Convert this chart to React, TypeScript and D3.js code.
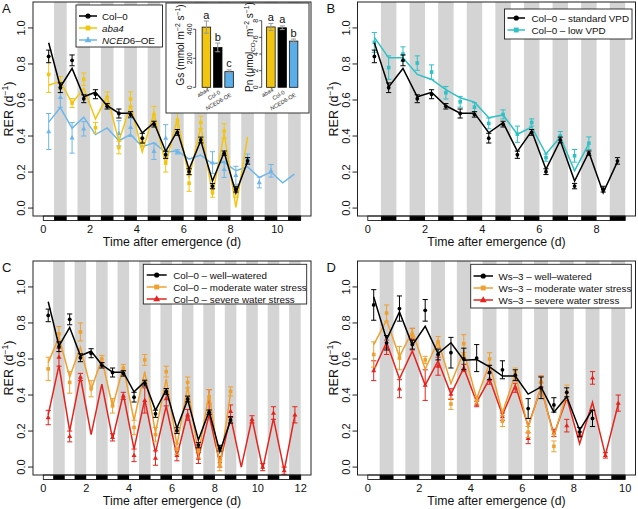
import React from "react";
import * as d3 from "d3";

// ---------- shared design values ----------
const HALF_DAYS = [0.23, 0.73, 1.23, 1.73, 2.23, 2.73, 3.23, 3.73, 4.23, 4.73, 5.23, 5.73,
  6.23, 6.73, 7.23, 7.73, 8.23, 8.73, 9.23, 9.73, 10.23, 10.73, 11.23, 11.73];
const DARK_START = 0.46;
const Y_TICKS = [0, 0.2, 0.4, 0.6, 0.8, 1.0];

// ---------- Col-0 well-watered / standard (shared A, B, C) ----------
const col0Fit = [0.918, 0.672, 0.775, 0.618, 0.643, 0.568, 0.527, 0.527, 0.418, 0.474, 0.315, 0.428, 0.215, 0.375, 0.15, 0.31, 0.085, 0.258];
const col0Obs = [0.842, 0.668, 0.82, 0.607, 0.632, 0.565, 0.525, 0.52, 0.388, 0.466, 0.296, 0.42, 0.202, 0.378, 0.122, 0.305, 0.105, 0.262];
const col0Err = [0.035, 0.027, 0.03, 0.022, 0.025, 0.015, 0.025, 0.015, 0.027, 0.016, 0.02, 0.016, 0.016, 0.016, 0.015, 0.012, 0.016, 0.018];

// ---------- Panel A ----------
const aba4Fit = [0.682, 0.705, 0.582, 0.665, 0.495, 0.62, 0.37, 0.572, 0.312, 0.527, 0.24, 0.497, 0.166, 0.452, 0.073, 0.414, 0.004, 0.395];
const aba4Obs = [0.742, 0.695, 0.583, 0.715, 0.446, 0.615, 0.336, 0.605, 0.365, 0.52, 0.25, 0.487, 0.138, 0.475, 0.085, 0.428, 0.09, null];
const aba4Err = [0.1, 0.035, 0.025, 0.035, 0.03, 0.03, 0.035, 0.04, 0.025, 0.045, 0.05, 0.05, 0.045, 0.035, 0.025, 0.04, 0.03, 0];
const ncedFit = [0.477, 0.558, 0.443, 0.505, 0.408, 0.445, 0.374, 0.409, 0.341, 0.362, 0.31, 0.318, 0.272, 0.294, 0.246, 0.254, 0.207, 0.229, 0.17, 0.2, 0.14, 0.188];
const ncedObs = [0.425, 0.615, 0.39, 0.44, null, null, 0.415, 0.448, null, 0.315, 0.388, 0.312, null, null, 0.253, 0.215, 0.182, 0.275, 0.142, 0.207, null, null];
const ncedErr = [0.1, 0.055, 0.085, 0.04, 0, 0, 0.07, 0.05, 0, 0.045, 0.075, 0.012, 0, 0, 0.06, 0.045, 0.05, 0.025, 0.03, 0.035, 0, 0];

// inset
const insetGenotypes = ["aba4", "Col-0", "NCED6-OE"];
const gsValues = [415, 275, 108];
const gsErr = [42, 30, 12];
const gsLetters = ["a", "b", "c"];
const gsTicks = [0, 200, 400];
const pnValues = [7.25, 7.15, 5.55];
const pnErr = [0.42, 0.22, 0.25];
const pnLetters = ["a", "a", "b"];
const pnTicks = [0, 2, 4, 6, 8];

// ---------- Panel B ----------
const lowVpdFit = [0.948, 0.834, 0.834, 0.742, 0.714, 0.657, 0.612, 0.588, 0.502, 0.517, 0.41, 0.45, 0.3, 0.395, 0.207, 0.358];
const lowVpdObs = [0.92, 0.78, 0.855, 0.805, 0.755, 0.64, 0.59, 0.56, 0.47, 0.52, 0.41, 0.475, 0.28, 0.4, 0.29, 0.36];
const lowVpdErr = [0.055, 0.065, 0.04, 0.04, 0.04, 0.035, 0.03, 0.025, 0.03, 0.025, 0.045, 0.02, 0.02, 0.025, 0.035, 0.035];

// ---------- Panel C ----------
const colModFit = [0.58, 0.72, 0.5, 0.665, 0.43, 0.6, 0.335, 0.556, 0.26, 0.53, 0.19, 0.49, 0.12, 0.45, 0.07, 0.41, 0.0, 0.41];
const colModObs = [0.545, 0.74, 0.47, 0.75, 0.435, 0.6, 0.34, 0.55, 0.22, 0.595, 0.18, 0.53, 0.1, 0.47, 0.09, 0.39, 0.01, 0.42];
const colModErr = [0.065, 0.04, 0.06, 0.05, 0.045, 0.02, 0.04, 0.02, 0.04, 0.03, 0.04, 0.03, 0.03, 0.03, 0.04, 0.04, 0.03, 0.025];
const colSevFit = [0.29, 0.565, 0.2, 0.5, 0.18, 0.46, 0.157, 0.405, 0.1, 0.377, 0.08, 0.34, 0.06, 0.3, 0.05, 0.29, 0.02, 0.28, 0.0, 0.27, -0.01, 0.27, -0.02, 0.29];
const colSevObs = [0.275, 0.61, 0.17, 0.5, null, null, 0.165, 0.395, 0.065, 0.37, 0.05, 0.38, 0.065, 0.29, 0.05, 0.36, 0.03, 0.31, null, 0.265, 0.0, 0.3, -0.02, 0.29];
const colSevErr = [0.04, 0.05, 0.03, 0.02, 0, 0, 0.02, 0.02, 0.035, 0.07, 0.04, 0.04, 0.03, 0.03, 0.03, 0.07, 0.03, 0.035, 0, 0.02, 0.02, 0.035, 0.02, 0.045];

// ---------- Panel D ----------
const wsWellFit = [0.945, 0.708, 0.861, 0.677, 0.782, 0.63, 0.69, 0.593, 0.597, 0.556, 0.505, 0.505, 0.405, 0.445, 0.305, 0.39, 0.205, 0.32];
const wsWellObs = [0.9, 0.69, 0.88, 0.68, 0.87, 0.625, 0.635, 0.6, 0.605, 0.525, 0.54, 0.51, 0.325, 0.44, 0.345, 0.415, 0.195, 0.27];
const wsWellErr = [0.085, 0.04, 0.07, 0.025, 0.06, 0.03, 0.085, 0.06, 0.075, 0.04, 0.05, 0.03, 0.055, 0.06, 0.04, 0.025, 0.025, 0.045];
const wsModFit = [0.68, 0.815, 0.612, 0.756, 0.543, 0.7, 0.464, 0.64, 0.38, 0.575, 0.3, 0.516, 0.22, 0.445, 0.17, 0.408];
const wsModObs = [0.625, 0.855, 0.605, 0.73, 0.595, 0.695, 0.35, 0.685, 0.37, 0.6, 0.255, 0.525, 0.195, 0.47, 0.115, 0.415];
const wsModErr = [0.07, 0.045, 0.065, 0.04, 0.02, 0.03, 0.03, 0.05, 0.02, 0.035, 0.03, 0.025, 0.03, 0.035, 0.03, 0.04];
const wsSevFit = [0.536, 0.693, 0.49, 0.645, 0.455, 0.59, 0.405, 0.55, 0.36, 0.49, 0.29, 0.455, 0.227, 0.44, 0.18, 0.384, 0.13, 0.36, 0.066, 0.35];
const wsSevObs = [0.535, 0.665, 0.435, 0.71, 0.455, 0.56, 0.405, 0.55, 0.35, 0.49, 0.28, 0.44, 0.16, 0.475, 0.19, 0.23, 0.18, 0.495, 0.065, 0.355];
const wsSevErr = [0.055, 0.04, 0.05, 0.06, 0.085, 0.05, 0.03, 0.02, 0.015, 0.03, 0.02, 0.025, 0.03, 0.03, 0.02, 0.035, 0.015, 0.035, 0.015, 0.045];

// ---------- styling ----------
const FONT = "'Liberation Sans', Arial, Helvetica, sans-serif";
const BLACK = "#000000";
const GOLD = "#F2C511";
const SKY = "#6DB6EA";
const TEAL = "#2EC1C6";
const ORANGE = "#F0A02E";
const RED = "#E6231C";
const BAND = "#D4D4D4";

type Marker = "circle" | "square" | "triangle";
interface Series {
  color: string;
  marker: Marker;
  fit: number[];
  obs: (number | null)[];
  err: number[];
}
interface LegendItem { color: string; marker: Marker; label: React.ReactNode }
interface LegendCfg { box: [number, number, number, number]; rows: number[]; line: [number, number]; textX: number; items: LegendItem[] }

function markerShape(m: Marker, cx: number, cy: number, size: number, color: string, key?: string | number) {
  if (m === "circle") return <circle key={key} cx={cx} cy={cy} r={size * 0.5} fill={color} />;
  if (m === "square") return <rect key={key} x={cx - size * 0.45} y={cy - size * 0.45} width={size * 0.9} height={size * 0.9} fill={color} />;
  const h = size * 0.95;
  const w = size * 1.1;
  return <path key={key} d={`M${cx},${cy - h * 0.62}L${cx + w / 2},${cy + h * 0.38}L${cx - w / 2},${cy + h * 0.38}Z`} fill={color} />;
}

const sizeFor: Record<Marker, number> = { circle: 3.8, square: 4.0, triangle: 4.6 };
const legendSize: Record<Marker, number> = { circle: 5.2, square: 5.4, triangle: 6.2 };

function Panel(props: {
  letter: string; left: number; right: number; top: number; bottom: number; days: number;
  xTicks: number[]; series: Series[]; legend: LegendCfg; children?: React.ReactNode;
}) {
  const { letter, left, right, top, bottom, days, xTicks, series, legend } = props;
  const x = d3.scaleLinear().domain([-0.04 * days, 1.04 * days]).range([left, right]);
  const y = d3.scaleLinear().domain([-0.044, 1.144]).range([bottom, top]);
  const dayIdx = d3.range(days);
  const clipId = `clip-${letter}`;
  const line = d3.line<[number, number]>().x(d => x(d[0])).y(d => y(d[1]));
  const barH = 4.5;
  return (
    <g>
      <defs>
        <clipPath id={clipId}><rect x={left} y={top} width={right - left} height={bottom - top} /></clipPath>
      </defs>
      {dayIdx.map(k => (
        <rect key={`b${k}`} x={x(k + DARK_START)} y={top} width={x(k + 1) - x(k + DARK_START)} height={bottom - top} fill={BAND} />
      ))}
      <g clipPath={`url(#${clipId})`}>
        {series.map((s, si) => {
          const pts: [number, number][] = s.fit.map((v, i) => [HALF_DAYS[i], v]);
          return (
            <g key={`s${si}`}>
              <path d={line(pts) || ""} fill="none" stroke={s.color} strokeWidth={1.5} strokeLinejoin="miter" />
              {s.obs.map((v, i) => {
                if (v === null) return null;
                const cx = x(HALF_DAYS[i]);
                const e = s.err[i];
                const y1 = y(v - e), y2 = y(v + e);
                return (
                  <g key={`p${i}`}>
                    {e > 0 && (
                      <g stroke={s.color} strokeWidth={1}>
                        <line x1={cx} x2={cx} y1={y1} y2={y2} />
                        <line x1={cx - 2.6} x2={cx + 2.6} y1={y1} y2={y1} />
                        <line x1={cx - 2.6} x2={cx + 2.6} y1={y2} y2={y2} />
                      </g>
                    )}
                    {markerShape(s.marker, cx, y(v), sizeFor[s.marker], s.color)}
                  </g>
                );
              })}
            </g>
          );
        })}
      </g>
      {/* day/night bar */}
      <rect x={x(0)} y={bottom} width={x(days) - x(0)} height={barH} fill="#fff" stroke={BLACK} strokeWidth={0.8} />
      {dayIdx.map(k => (
        <rect key={`n${k}`} x={x(k + DARK_START)} y={bottom} width={x(k + 1) - x(k + DARK_START)} height={barH} fill={BLACK} />
      ))}
      {/* box */}
      <rect x={left} y={top} width={right - left} height={bottom - top} fill="none" stroke="#222" strokeWidth={1} />
      {/* y axis */}
      {Y_TICKS.map(t => (
        <g key={`y${t}`}>
          <line x1={left - 5} x2={left} y1={y(t)} y2={y(t)} stroke="#222" strokeWidth={1} />
          <text transform={`translate(${left - 8},${y(t)}) rotate(-90)`} textAnchor="middle" fontSize={11} fontFamily={FONT} fill="#111">{t.toFixed(1)}</text>
        </g>
      ))}
      <text transform={`translate(${left - 20},${(top + bottom) / 2}) rotate(-90)`} textAnchor="middle" fontSize={12.5} fontFamily={FONT} fill="#111">
        RER (d<tspan fontSize={8.5} dy={-5}>−1</tspan><tspan dy={5}>)</tspan>
      </text>
      {/* x axis labels */}
      {xTicks.map(t => (
        <text key={`x${t}`} x={x(t)} y={bottom + 17} textAnchor="middle" fontSize={11} fontFamily={FONT} fill="#111">{t}</text>
      ))}
      <text x={(left + right) / 2} y={bottom + 29.5} textAnchor="middle" fontSize={12.3} fontFamily={FONT} fill="#111">Time after emergence (d)</text>
      <text x={left - 31} y={top + 11} fontSize={13} fontFamily={FONT} fill="#111">{letter}</text>
      {/* legend */}
      <rect x={legend.box[0]} y={legend.box[1]} width={legend.box[2] - legend.box[0]} height={legend.box[3] - legend.box[1]} fill="#fff" stroke="#222" strokeWidth={0.9} />
      {legend.items.map((it, i) => {
        const ry = legend.rows[i];
        const mx = (legend.line[0] + legend.line[1]) / 2;
        return (
          <g key={`l${i}`}>
            <line x1={legend.line[0]} x2={legend.line[1]} y1={ry} y2={ry} stroke={it.color} strokeWidth={1.5} />
            {markerShape(it.marker, mx, ry, legendSize[it.marker], it.color)}
            <text x={legend.textX} y={ry + 3.6} fontSize={9.8} fontFamily={FONT} fill="#111">{it.label}</text>
          </g>
        );
      })}
      {props.children}
    </g>
  );
}

function Inset() {
  const colors = [GOLD, BLACK, "#5AAEEA"];
  const zeroY = 87.3;
  const gsY = d3.scaleLinear().domain([0, 400]).range([zeroY, 29.3]);
  const pnY = d3.scaleLinear().domain([0, 8]).range([zeroY, 20.7]);
  const gsX = d3.scaleBand<string>().domain(insetGenotypes).range([201, 234.5]).paddingInner(0.25).paddingOuter(0.1);
  const pnX = d3.scaleBand<string>().domain(insetGenotypes).range([265.5, 299]).paddingInner(0.25).paddingOuter(0.1);
  const block = (
    sx: d3.ScaleBand<string>, sy: d3.ScaleLinear<number, number>, vals: number[], errs: number[], letters: string[],
    ticks: number[], axisX: number, key: string
  ) => (
    <g key={key}>
      <line x1={axisX} x2={axisX} y1={sy(ticks[0])} y2={sy(ticks[ticks.length - 1])} stroke="#222" strokeWidth={0.8} />
      {ticks.map(t => (
        <g key={t}>
          <line x1={axisX - 2.5} x2={axisX} y1={sy(t)} y2={sy(t)} stroke="#222" strokeWidth={0.8} />
          <text transform={`translate(${axisX - 3.5},${sy(t)}) rotate(-90)`} textAnchor="middle" fontSize={7} fontFamily={FONT} fill="#111">{t}</text>
        </g>
      ))}
      {insetGenotypes.map((g, i) => {
        const bx = sx(g) as number;
        const bw = sx.bandwidth();
        const cx = bx + bw / 2;
        const top = sy(vals[i] + errs[i]);
        const bot = sy(vals[i] - errs[i]);
        return (
          <g key={g}>
            <rect x={bx} y={sy(vals[i])} width={bw} height={zeroY - sy(vals[i])} fill={colors[i]} stroke="#111" strokeWidth={0.8} />
            <g stroke="#9a9a9a" strokeWidth={1}>
              <line x1={cx} x2={cx} y1={top} y2={bot} />
              <line x1={cx - 2.5} x2={cx + 2.5} y1={top} y2={top} />
              <line x1={cx - 2.5} x2={cx + 2.5} y1={bot} y2={bot} />
            </g>
            <text x={cx} y={top - 2.5} textAnchor="middle" fontSize={11} fontFamily={FONT} fill="#111">{letters[i]}</text>
            <text transform={`translate(${cx + 3},${91 + i * 2.5}) rotate(-30)`} textAnchor="end" fontSize={5.6} fontFamily={FONT} fill="#222">
              {g === "aba4" ? <tspan fontStyle="italic">aba4</tspan> : g === "NCED6-OE" ? <><tspan fontStyle="italic">NCED</tspan>6-OE</> : g}
            </text>
          </g>
        );
      })}
    </g>
  );
  return (
    <g>
      <rect x={166} y={3} width={143} height={110} fill="#fff" stroke="#333" strokeWidth={1} />
      {block(gsX, gsY, gsValues, gsErr, gsLetters, gsTicks, 195.7, "gs")}
      {block(pnX, pnY, pnValues, pnErr, pnLetters, pnTicks, 261.7, "pn")}
      <text transform="translate(184,45) rotate(-90)" textAnchor="middle" fontSize={10} fontFamily={FONT} fill="#111">
        Gs (mmol m<tspan fontSize={6.8} dy={-4}>−2</tspan><tspan dy={4}> s</tspan><tspan fontSize={6.8} dy={-4}>−1</tspan><tspan dy={4}>)</tspan>
      </text>
      <text transform="translate(252.5,47) rotate(-90)" textAnchor="middle" fontSize={10} fontFamily={FONT} fill="#111">
        Pn (μmol<tspan fontSize={6.2} dy={2.5}>CO</tspan><tspan fontSize={4.6} dy={1.5}>2</tspan><tspan dy={-4}> m</tspan><tspan fontSize={6.8} dy={-4}>−2</tspan><tspan dy={4}> s</tspan><tspan fontSize={6.8} dy={-4}>−1</tspan><tspan dy={4}>)</tspan>
      </text>
    </g>
  );
}

export default function App() {
  const col0: Series = { color: BLACK, marker: "circle", fit: col0Fit, obs: col0Obs, err: col0Err };
  const seriesA: Series[] = [
    { color: SKY, marker: "triangle", fit: ncedFit, obs: ncedObs, err: ncedErr },
    { color: GOLD, marker: "square", fit: aba4Fit, obs: aba4Obs, err: aba4Err },
    col0,
  ];
  const seriesB: Series[] = [
    { color: TEAL, marker: "square", fit: lowVpdFit, obs: lowVpdObs, err: lowVpdErr },
    col0,
  ];
  const seriesC: Series[] = [
    { color: RED, marker: "triangle", fit: colSevFit, obs: colSevObs, err: colSevErr },
    { color: ORANGE, marker: "square", fit: colModFit, obs: colModObs, err: colModErr },
    col0,
  ];
  const seriesD: Series[] = [
    { color: RED, marker: "triangle", fit: wsSevFit, obs: wsSevObs, err: wsSevErr },
    { color: ORANGE, marker: "square", fit: wsModFit, obs: wsModObs, err: wsModErr },
    { color: BLACK, marker: "circle", fit: wsWellFit, obs: wsWellObs, err: wsWellErr },
  ];
  const legA: LegendCfg = {
    box: [76, 5, 162.5, 47], rows: [16, 28, 40], line: [79, 97], textX: 102,
    items: [
      { color: BLACK, marker: "circle", label: "Col–0" },
      { color: GOLD, marker: "square", label: <tspan fontStyle="italic">aba4</tspan> },
      { color: SKY, marker: "triangle", label: <><tspan fontStyle="italic">NCED</tspan>6–OE</> },
    ],
  };
  const legB: LegendCfg = {
    box: [504.5, 9, 632, 39], rows: [18, 30], line: [507.5, 525], textX: 531.5,
    items: [
      { color: BLACK, marker: "circle", label: "Col–0 – standard VPD" },
      { color: TEAL, marker: "square", label: "Col–0 – low VPD" },
    ],
  };
  const legC: LegendCfg = {
    box: [143.3, 264.3, 306.7, 304], rows: [275, 287, 299], line: [146.7, 166.7], textX: 173.3,
    items: [
      { color: BLACK, marker: "circle", label: "Col–0 – well–watered" },
      { color: ORANGE, marker: "square", label: "Col–0 – moderate water stress" },
      { color: RED, marker: "triangle", label: "Col–0 – severe water stress" },
    ],
  };
  const legD: LegendCfg = {
    box: [470.7, 264.3, 631.3, 308], rows: [276, 288, 300], line: [473.5, 493], textX: 498.5,
    items: [
      { color: BLACK, marker: "circle", label: "Ws–3 – well–watered" },
      { color: ORANGE, marker: "square", label: "Ws–3 – moderate water stress" },
      { color: RED, marker: "triangle", label: "Ws–3 – severe water stress" },
    ],
  };
  return (
    <svg width={638} height={509} style={{ position: "absolute", left: 0, top: 0, background: "#fff" }}>
      <rect width={638} height={509} fill="#fff" />
      <Panel letter="A" left={33} right={311} top={2} bottom={216} days={11} xTicks={[0, 2, 4, 6, 8, 10]} series={seriesA} legend={legA}>
        <Inset />
      </Panel>
      <Panel letter="B" left={357.5} right={635.5} top={2} bottom={216} days={9} xTicks={[0, 2, 4, 6, 8]} series={seriesB} legend={legB} />
      <Panel letter="C" left={33} right={311} top={261} bottom={475} days={12} xTicks={[0, 2, 4, 6, 8, 10, 12]} series={seriesC} legend={legC} />
      <Panel letter="D" left={357.5} right={635.5} top={261} bottom={475} days={10} xTicks={[0, 2, 4, 6, 8, 10]} series={seriesD} legend={legD} />
    </svg>
  );
}
